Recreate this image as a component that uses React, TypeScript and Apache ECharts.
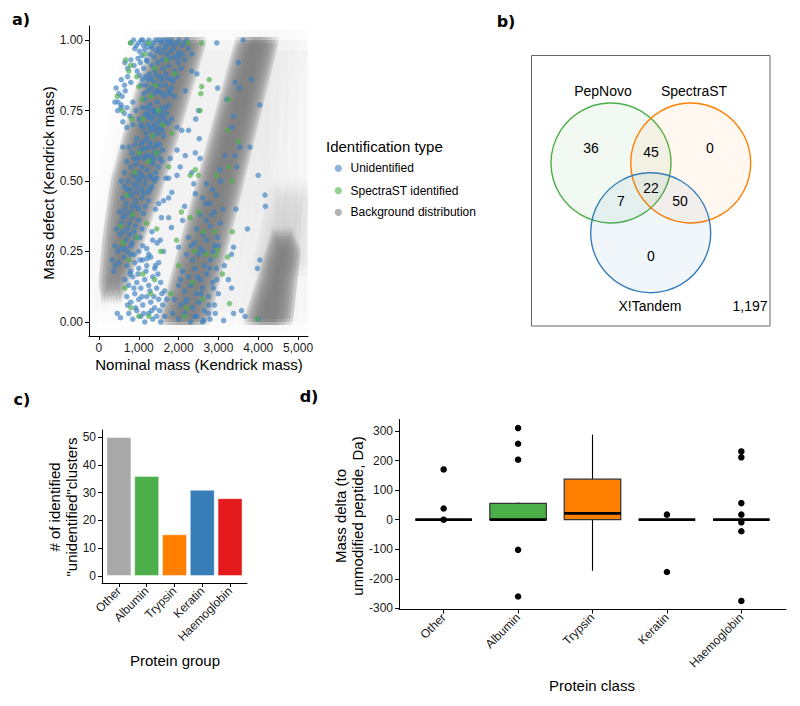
import React, { useEffect, useRef } from "react";
import * as echarts from "echarts";

const FONT = "'Liberation Sans', Arial, Helvetica, sans-serif";

// ---------- Panel a ----------
const massTicks = [0, 1000, 2000, 3000, 4000, 5000];
const defectTicks = [0, 0.25, 0.5, 0.75, 1];
const legendTitle = "Identification type";
const legendLabels = ["Unidentified", "SpectraST identified", "Background distribution"];

const unidentifiedPoints: number[][] = [
  [800,0.99],[870,1.0],[940,0.98],[1000,0.99],[1060,1.0],[1120,0.98],[1180,0.99],[1250,1.0],[1310,0.98],[1370,0.99],[1430,1.0],[1500,0.97],[1560,0.99],[1620,1.0],[1690,0.98],[1750,0.99],[1820,1.0],[1880,0.97],[1950,0.99],[2010,1.0],[2080,0.98],[2150,0.99],[2240,0.97],[2960,0.99],[3620,1.0],[1020,0.96],[1280,0.95],[1450,0.96],[1700,0.95],[1900,0.94],[2100,0.95],[2330,0.95],
  [900,0.97],[1150,0.965],[1350,0.97],[1550,0.955],[1800,0.96],[2000,0.955],[2200,1.0],[1100,1.0],[1520,1.0],[1720,1.0],[1230,0.975],[1640,0.97],[1860,0.985],[980,0.935],[1210,0.925],[1380,0.94],[1590,0.93],[1780,0.935],[2000,0.94],[1080,0.945],
  [650,0.92],[720,0.9],[800,0.93],[880,0.91],[960,0.89],[1040,0.92],[1120,0.9],[1190,0.93],[1260,0.88],[1330,0.91],[1400,0.89],[1470,0.92],[1540,0.87],[1610,0.9],[1680,0.88],[1750,0.91],[1820,0.86],[1900,0.89],[1980,0.92],[2060,0.9],[2160,0.93],[560,0.86],[640,0.84],[720,0.87],[800,0.85],[1100,0.86],[1180,0.84],[1250,0.86],[1320,0.83],[1390,0.85],[1460,0.82],[1530,0.84],[1600,0.81],[1670,0.84],[1740,0.82],[1820,0.83],[1900,0.8],[2460,0.88],[2170,0.82],[430,0.83],[500,0.81],[580,0.8],[660,0.82],[480,0.78],[550,0.76],
  [1020,0.875],[1170,0.87],[1310,0.865],[1440,0.875],[1580,0.86],[1720,0.865],[1860,0.855],[1960,0.87],[1230,0.82],[1370,0.81],[1510,0.815],[1650,0.8],[1780,0.81],[1130,0.81],[1060,0.84],
  [400,0.78],[470,0.75],[560,0.77],[640,0.74],[700,0.76],[780,0.73],[850,0.78],[930,0.75],[1010,0.72],[1080,0.76],[1150,0.79],[1220,0.74],[1280,0.77],[1340,0.72],[1400,0.75],[1460,0.78],[1520,0.73],[1580,0.76],[1640,0.71],[1700,0.74],[1760,0.77],[1820,0.72],[1240,0.7],[1320,0.68],[1400,0.7],[1480,0.67],[1550,0.69],[1620,0.66],[1180,0.67],[1100,0.69],[850,0.7],[700,0.69],[600,0.71],
  [1190,0.76],[1310,0.755],[1430,0.745],[1560,0.745],[1680,0.76],[1250,0.725],[1370,0.735],[1500,0.71],[1620,0.725],[1740,0.705],[1160,0.735],[1290,0.69],[1440,0.685],[1580,0.68],[1050,0.7],[1370,0.66],
  [760,0.62],[830,0.6],[900,0.63],[970,0.58],[1040,0.61],[1110,0.64],[1180,0.59],[1250,0.62],[1320,0.57],[1390,0.6],[1460,0.63],[1530,0.58],[1600,0.61],[800,0.55],[870,0.52],[940,0.56],[1010,0.53],[1080,0.55],[1150,0.51],[1220,0.54],[1290,0.52],[1360,0.56],[1430,0.53],[1500,0.55],[700,0.57],[640,0.53],[600,0.62],[1200,0.65],[950,0.65],
  [1060,0.63],[1150,0.615],[1290,0.635],[1400,0.62],[1520,0.63],[1010,0.59],[1130,0.58],[1260,0.59],[1370,0.58],[1490,0.6],[880,0.58],[1580,0.57],[1070,0.52],[1320,0.51],[960,0.51],[1450,0.51],
  [2500,0.75],[2430,0.72],[1960,0.69],[2080,0.68],[2250,0.68],[2520,0.65],[1960,0.61],[2170,0.59],[2420,0.6],[2540,0.58],[2040,0.55],[2330,0.53],[1750,0.51],[1960,0.52],[1790,0.58],[2330,0.89],
  [3500,0.92],[3420,0.85],[3830,0.86],[3530,0.83],[2980,0.83],[3210,0.79],[3380,0.73],[4040,0.77],[3350,0.69],[3540,0.62],[3790,0.62],[3420,0.59],[3170,0.59],[3460,0.55],[3040,0.54],[4000,0.52],
  [560,0.5],[640,0.48],[720,0.5],[790,0.47],[870,0.49],[940,0.46],[1010,0.5],[1080,0.47],[1160,0.49],[1240,0.46],[1320,0.48],[1400,0.5],[600,0.44],[680,0.42],[760,0.45],[840,0.41],[920,0.43],[1000,0.4],[1080,0.44],[1160,0.41],[1240,0.43],[520,0.39],[600,0.37],[680,0.38],[760,0.35],[840,0.37],[920,0.34],[1000,0.36],[1080,0.33],[440,0.33],[520,0.31],[600,0.32],[680,0.29],[760,0.31],[840,0.28],[920,0.3],[400,0.27],[470,0.25],[550,0.26],[630,0.23],[710,0.25],[790,0.24],[330,0.22],[410,0.2],[500,0.21],[370,0.18],
  [700,0.47],[830,0.45],[960,0.48],[1120,0.455],[1280,0.47],[650,0.4],[800,0.39],[950,0.41],[1120,0.385],[720,0.33],[880,0.32],[1040,0.3],[560,0.35],[800,0.27],[650,0.26],
  [700,0.2],[800,0.18],[900,0.21],[1000,0.19],[1100,0.22],[1200,0.2],[1300,0.23],[1400,0.19],[1500,0.21],[650,0.15],[750,0.13],[850,0.16],[950,0.14],[1050,0.12],[1150,0.15],[1250,0.13],[1350,0.16],[1450,0.12],[1550,0.14],[1650,0.11],[700,0.09],[800,0.07],[900,0.1],[1000,0.08],[1100,0.06],[1200,0.09],[1300,0.07],[1400,0.05],[1500,0.08],[1600,0.06],[750,0.03],[850,0.01],[950,0.04],[1050,0.02],[1150,0.0],[1250,0.03],[1350,0.01],[1450,0.02],[1550,0.0],[1650,0.02],[460,0.03],[540,0.015],[1100,0.27],[1200,0.26],[1350,0.29],[1000,0.25],
  [780,0.17],[880,0.12],[980,0.17],[1080,0.09],[1180,0.18],[1280,0.11],[1380,0.09],[1480,0.17],[1580,0.1],[720,0.06],[920,0.05],[1120,0.03],[1320,0.04],[1520,0.04],[1700,0.08],[1030,0.22],[1250,0.24],[880,0.24],
  [1500,0.42],[1620,0.43],[1750,0.44],[1830,0.46],[1420,0.4],[1570,0.37],[1750,0.37],[1330,0.32],[1820,0.335],[1540,0.29],[2000,0.265],[1460,0.28],[2150,0.41],[2420,0.455],[2380,0.49],[1680,0.51],[1620,0.25],[1210,0.225],[1420,0.2],
  [2700,0.49],[2850,0.47],[3050,0.5],[2600,0.44],[2780,0.42],[2950,0.45],[3120,0.4],[2550,0.38],[2700,0.36],[2900,0.39],[3050,0.35],[2450,0.33],[2620,0.31],[2800,0.34],[2980,0.3],[2400,0.28],[2550,0.26],[2700,0.29],[2870,0.25],[3000,0.27],[2200,0.24],[2350,0.22],[2500,0.24],[2650,0.2],[2800,0.22],[2950,0.19],[2100,0.18],[2250,0.16],[2400,0.19],[2550,0.15],[2700,0.17],[2850,0.14],[2000,0.13],[2150,0.11],[2300,0.13],[2450,0.1],[2600,0.12],[2750,0.09],[1900,0.08],[2050,0.06],[2200,0.08],[2350,0.05],[2500,0.07],[2650,0.04],[1850,0.03],[2000,0.01],[2150,0.03],[2300,0.0],[2450,0.02],[2600,0.0],[2750,0.03],[2900,0.06],[3000,0.1],[3150,0.2],[2100,0.36],[2250,0.3],
  [2050,0.15],[2320,0.27],[2480,0.16],[2620,0.25],[2180,0.07],[2400,0.02],[2560,0.1],[2780,0.19],[2900,0.27],[2680,0.42],[2830,0.38],[2750,0.06],
  [4170,0.45],[4180,0.41],[3440,0.4],[3730,0.33],[3380,0.265],[3330,0.24],[4040,0.22],[3250,0.15],[3330,0.12],[2870,0.12],[2960,0.15],[3580,0.04],[3670,0.02],[4000,0.01],[2920,0.03],[3130,0.005],[2790,0.01],[2630,0.005],[3980,0.19],[3380,0.03]
];

const spectrastPoints: number[][] = [
  [790,0.99],[1250,0.99],[2230,0.99],[2580,0.99],[670,0.93],[790,0.91],[750,0.89],[1000,0.835],[460,0.8],[580,0.75],[830,0.72],[1080,0.79],[1420,0.84],[2770,0.86],[2580,0.835],[2560,0.81],[2540,0.75],[1830,0.67],[2420,0.54],[2500,0.52],[2290,0.52],[1750,0.55],[3250,0.79],[3230,0.68],[3500,0.64],[3270,0.55],[2940,0.52],[1150,0.95],[1400,0.9],[1700,0.93],[950,0.87],[1300,0.8],[1500,0.75],[1100,0.72],[1350,0.66],[1000,0.6],[1250,0.57],[900,0.53],[1450,0.6],[1600,0.7],[1900,0.88],
  [3350,0.32],[3230,0.23],[3100,0.17],[3280,0.065],[3960,0.01],[3350,0.5],[2920,0.235],[2980,0.255],[2620,0.32],[2290,0.37],[2500,0.39],[2070,0.39],[700,0.45],[850,0.38],[950,0.3],[600,0.28],[750,0.22],[1100,0.17],[1300,0.1],[1250,0.02],[1400,0.15],[1550,0.25],[800,0.05],[1000,0.02],[1450,0.33],[1200,0.35],[650,0.12],[550,0.34],[1800,0.1],[2000,0.2],[2200,0.05],[2400,0.25],[2600,0.08],[2700,0.24],[2900,0.32],[2350,0.14],[1950,0.29],[2150,0.02]
];

// background distribution outlines (mass, defect)
const backgroundHaze: number[][][] = [
  [[1350,1.0],[2800,1.0],[2100,0.68],[1600,0.45],[1100,0.25],[700,0.08],[350,0.0],[60,0.0],[300,0.3],[650,0.5],[1000,0.75]],
  [[1400,0.0],[2900,0.0],[4650,1.0],[3300,1.0]],
  [[3500,0.0],[4990,0.0],[4990,1.0],[4350,1.0],[4100,0.6],[3800,0.3]]
];
const backgroundMid: number[][][] = [
  [[4200,0.18],[4880,0.18],[4990,0.44],[4750,0.5]]
];
const backgroundCore: number[][][] = [
  [[1530,1.0],[2480,1.0],[1820,0.68],[1320,0.45],[860,0.27],[560,0.15],[300,0.07],[220,0.14],[320,0.3],[520,0.5],[1000,0.75]],
  [[1720,0.0],[2550,0.0],[4290,1.0],[3650,1.0]],
  [[3850,0.0],[4640,0.0],[4840,0.25],[4600,0.33]]
];

// ---------- Panel b ----------
const vennSets = ["PepNovo", "SpectraST", "X!Tandem"];
// PepNovo only, SpectraST only, X!Tandem only, P∩S, P∩X, S∩X, all three
const vennRegionCounts = [36, 0, 0, 45, 7, 50, 22];
const vennOutside = 1197;

// ---------- Panel c ----------
const proteinGroups = ["Other", "Albumin", "Trypsin", "Keratin", "Haemoglobin"];
const clusterCounts = [50, 36, 15, 31, 28];
const countTicks = [0, 10, 20, 30, 40, 50];

// ---------- Panel d ----------
// [lower whisker, Q1, median, Q3, upper whisker]
const boxStats = [
  [0, 0, 0, 0, 0],
  [0, 0, 0, 55, 58],
  [-173, 0, 21, 137, 288],
  [0, 0, 0, 0, 0],
  [0, 0, 0, 0, 0]
];
const boxOutliers = [
  [170, 38, 0],
  [310, 257, 203, -102, -260],
  [],
  [17, -177],
  [231, 211, 56, 17, -9, -39, -275]
];
const deltaTicks = [-300, -200, -100, 0, 100, 200, 300];

const groupColors = ["#a9a9a9", "#4daf4a", "#ff7f00", "#377eb8", "#e41a1c"];
const catIdx = [0, 1, 2, 3, 4];

function axisBase(extra: any) {
  return {
    type: "value",
    axisLine: { show: true, onZero: false, lineStyle: { color: "#000", width: 1 } },
    axisTick: { show: true, length: 4, lineStyle: { color: "#000", width: 1 }, customValues: extra.ticks },
    axisLabel: {
      show: true,
      customValues: extra.ticks,
      fontSize: 12,
      fontFamily: FONT,
      color: "#1a1a1a",
      margin: extra.margin ?? 6,
      rotate: extra.rotate ?? 0,
      formatter: extra.formatter,
    },
    splitLine: { show: false },
    gridIndex: extra.gridIndex,
    min: extra.min,
    max: extra.max,
  };
}

// soft-edged polygons: several shifted translucent copies
function bgSeries(polys: number[][][], target: number, spread: number) {
  const offsets: number[][] = [];
  const nx = 7;
  for (let k = 0; k < nx; k++) {
    const dx = -spread + (2 * spread * k) / (nx - 1);
    for (const dy of [-spread * 0.35, 0, spread * 0.35]) offsets.push([dx, dy]);
  }
  const alpha = 1 - Math.pow(1 - target, 1 / offsets.length);
  return {
    type: "custom",
    xAxisIndex: 0,
    yAxisIndex: 0,
    silent: true,
    clip: true,
    data: polys.map((_, i) => [i, 0]),
    encode: { x: 0, y: 1 },
    renderItem: (params: any, api: any) => {
      const idx = api.value(0);
      const pts = polys[idx].map((p) => api.coord(p));
      return {
        type: "group",
        children: offsets.map(([dx, dy]) => ({
          type: "polygon",
          shape: { points: pts.map((p: number[]) => [p[0] + dx, p[1] + dy]) },
          style: { fill: `rgba(128,128,128,${alpha.toFixed(4)})` },
        })),
      };
    },
  };
}

function txt(text: string, x: number, y: number, size: number, opts: any = {}) {
  return {
    type: "text",
    x,
    y,
    rotation: opts.rotation ?? 0,
    silent: true,
    style: {
      text,
      fill: opts.fill ?? "#000",
      fontSize: size,
      fontFamily: opts.family ?? FONT,
      fontWeight: opts.weight ?? "normal",
      align: opts.align ?? "center",
      verticalAlign: "middle",
      lineHeight: opts.lineHeight,
    },
  };
}

export default function App() {
  const ref = useRef<HTMLDivElement>(null);
  useEffect(() => {
    if (!ref.current) return;
    const chart = echarts.init(ref.current, undefined, { renderer: "svg" });

    const vennCircles = [
      { cx: 611, cy: 163, stroke: "#4daf4a", fill: "rgba(77,175,74,0.07)" },
      { cx: 690.7, cy: 163, stroke: "#ff7f00", fill: "rgba(255,127,0,0.06)" },
      { cx: 650.7, cy: 232.7, stroke: "#377eb8", fill: "rgba(55,126,184,0.07)" },
    ];
    const vennRegionPos = [[591, 148], [710, 148], [651, 256], [651, 152], [621, 201], [680, 201], [651, 188]];
    const vennLabelPos = [[603, 91], [694, 91], [650, 306]];
    const legendColors = ["#8cb4dc", "#94d092", "#b2b2b2"];
    const legendY = [168.3, 190.7, 212.3];

    const graphic: any[] = [
      txt("a)", 21, 19, 16, { weight: "bold", family: "'DejaVu Sans', sans-serif" }),
      txt("b)", 506, 21, 16, { weight: "bold", family: "'DejaVu Sans', sans-serif" }),
      txt("c)", 22, 399, 16, { weight: "bold", family: "'DejaVu Sans', sans-serif" }),
      txt("d)", 309, 396, 16, { weight: "bold", family: "'DejaVu Sans', sans-serif" }),
      txt("Nominal mass (Kendrick mass)", 199, 364, 15),
      txt("Mass defect (Kendrick mass)", 48, 183, 15, { rotation: Math.PI / 2 }),
      txt("Protein group", 175, 660, 15),
      txt("# of identified\n\"unidentified\"clusters", 63, 507, 15, { rotation: Math.PI / 2, lineHeight: 17 }),
      txt("Protein class", 592, 685, 15),
      txt("Mass delta (to\nunmodified peptide, Da)", 349, 516, 15, { rotation: Math.PI / 2, lineHeight: 17 }),
      txt(legendTitle, 326, 146.7, 15, { align: "left" }),
      ...legendLabels.flatMap((lab, i) => [
        { type: "circle", silent: true, shape: { cx: 338.3, cy: legendY[i], r: 3.6 }, style: { fill: legendColors[i] } },
        txt(lab, 350.5, legendY[i], 12, { align: "left" }),
      ]),
      { type: "rect", silent: true, shape: { x: 531.5, y: 55.5, width: 238.5, height: 270.5 }, style: { fill: "none", stroke: "#666", lineWidth: 1 } },
      ...vennCircles.map((c) => ({ type: "circle", silent: true, shape: { cx: c.cx, cy: c.cy, r: 60 }, style: { fill: c.fill, stroke: c.stroke, lineWidth: 1.4 } })),
      ...vennSets.map((s, i) => txt(s, vennLabelPos[i][0], vennLabelPos[i][1], 14)),
      ...vennRegionCounts.map((v, i) => txt(String(v), vennRegionPos[i][0], vennRegionPos[i][1], 14)),
      txt(vennOutside.toLocaleString("en-US"), 750, 306, 14),
    ];

    const option: any = {
      animation: false,
      backgroundColor: "#fff",
      grid: [
        { left: 89, top: 26, width: 219, height: 310 },
        { left: 102, top: 430, width: 145, height: 153 },
        { left: 399, top: 419.5, width: 387, height: 190 },
      ],
      xAxis: [
        axisBase({ gridIndex: 0, min: -250, max: 5250, ticks: massTicks, formatter: (v: number) => v.toLocaleString("en-US") }),
        axisBase({ gridIndex: 1, min: -0.61, max: 4.61, ticks: catIdx, rotate: 45, formatter: (v: number) => proteinGroups[Math.round(v)] }),
        axisBase({ gridIndex: 2, min: -0.6, max: 4.6, ticks: catIdx, rotate: 45, formatter: (v: number) => proteinGroups[Math.round(v)] }),
      ],
      yAxis: [
        axisBase({ gridIndex: 0, min: -0.05, max: 1.05, ticks: defectTicks, formatter: (v: number) => v.toFixed(2) }),
        axisBase({ gridIndex: 1, min: -2.5, max: 52.5, ticks: countTicks, formatter: (v: number) => String(v) }),
        axisBase({ gridIndex: 2, min: -304, max: 339, ticks: deltaTicks, formatter: (v: number) => String(v) }),
      ],
      series: [
        bgSeries(backgroundHaze, 0.16, 28),
        bgSeries(backgroundMid, 0.42, 16),
        bgSeries(backgroundCore, 0.95, 9),
        {
          name: legendLabels[0],
          type: "scatter",
          xAxisIndex: 0,
          yAxisIndex: 0,
          silent: true,
          symbol: "circle",
          symbolSize: 5.5,
          itemStyle: { color: "#3a7fc0", opacity: 0.65 },
          data: unidentifiedPoints,
        },
        {
          name: legendLabels[1],
          type: "scatter",
          xAxisIndex: 0,
          yAxisIndex: 0,
          silent: true,
          symbol: "circle",
          symbolSize: 5.5,
          itemStyle: { color: "#4daf4a", opacity: 0.65 },
          data: spectrastPoints,
        },
        {
          type: "bar",
          xAxisIndex: 1,
          yAxisIndex: 1,
          silent: true,
          barWidth: 25,
          data: clusterCounts.map((v, i) => ({
            value: [i, v],
            itemStyle: { color: groupColors[i], borderColor: "rgba(255,255,255,0.45)", borderWidth: 1 },
          })),
        },
        {
          type: "custom",
          xAxisIndex: 2,
          yAxisIndex: 2,
          silent: true,
          data: boxStats.map((s, i) => [i, ...s]),
          encode: { x: 0, y: [1, 2, 3, 4, 5] },
          renderItem: (params: any, api: any) => {
            const i = api.value(0);
            const [lo, q1, med, q3, hi] = [1, 2, 3, 4, 5].map((k) => api.value(k));
            const pLo = api.coord([i, lo]);
            const pQ1 = api.coord([i, q1]);
            const pMed = api.coord([i, med]);
            const pQ3 = api.coord([i, q3]);
            const pHi = api.coord([i, hi]);
            const w = api.size([0.76, 0])[0];
            const x0 = pMed[0] - w / 2;
            return {
              type: "group",
              children: [
                { type: "line", shape: { x1: pHi[0], y1: pHi[1], x2: pQ3[0], y2: pQ3[1] }, style: { stroke: "#000", lineWidth: 1.1 } },
                { type: "line", shape: { x1: pQ1[0], y1: pQ1[1], x2: pLo[0], y2: pLo[1] }, style: { stroke: "#000", lineWidth: 1.1 } },
                { type: "rect", shape: { x: x0, y: pQ3[1], width: w, height: pQ1[1] - pQ3[1] }, style: { fill: groupColors[i], stroke: "#333", lineWidth: 1.2 } },
                { type: "line", shape: { x1: x0, y1: pMed[1], x2: x0 + w, y2: pMed[1] }, style: { stroke: "#000", lineWidth: 2.8 } },
              ],
            };
          },
        },
        {
          type: "scatter",
          xAxisIndex: 2,
          yAxisIndex: 2,
          silent: true,
          symbol: "circle",
          symbolSize: 6.5,
          itemStyle: { color: "#000", opacity: 1 },
          data: boxOutliers.flatMap((arr, i) => arr.map((v) => [i, v])),
        },
      ],
      graphic,
    };
    chart.setOption(option);
    return () => chart.dispose();
  }, []);
  return <div ref={ref} style={{ position: "absolute", left: 0, top: 0, width: 800, height: 706 }} />;
}
